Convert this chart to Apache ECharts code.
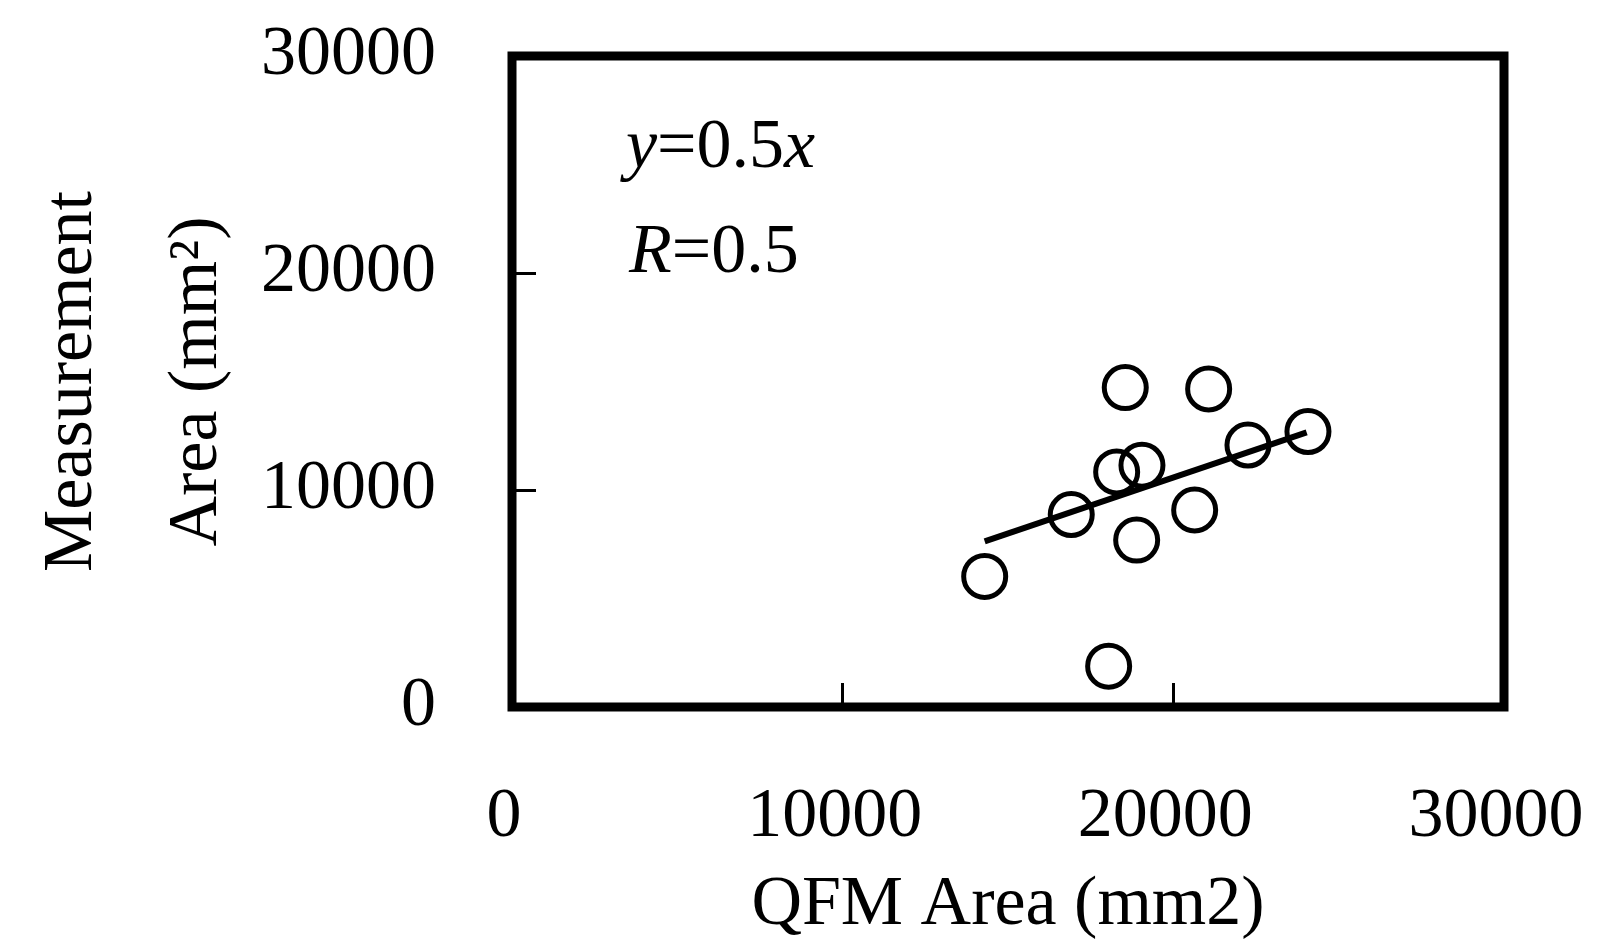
<!DOCTYPE html>
<html>
<head>
<meta charset="utf-8">
<script src="https://cdn.jsdelivr.net/npm/echarts@6/dist/echarts.min.js"></script>
<style>
html,body{margin:0;padding:0;background:#fff;}
#chart{width:1609px;height:943px;}
</style>
</head>
<body>
<div id="chart"></div>
<script>
// ---- data ----
const qfmArea = [14295, 16913, 18044, 18546, 18286, 19051, 18891, 21068, 20645, 22257, 24071];
const measArea = [6018, 8870, 1880, 14718, 10833, 11142, 7691, 14658, 9078, 12073, 12695];
const fitX = [14295, 24032];
const fitY = [7631, 12654];
const xTicks = [0, 10000, 20000, 30000];
const yTicks = [0, 10000, 20000, 30000];
const xTitle = 'QFM Area (mm2)';
const yTitle = 'Measurement\nArea (mm\u00B2)';
const eqText = '{i|y}=0.5{i|x}';
const rText = '{i|R}=0.5';

const FONT = "'Liberation Serif', 'Times New Roman', serif";

const scatterData = qfmArea.map((x, i) => [x, measArea[i]]);
const fitData = fitX.map((x, i) => [x, fitY[i]]);

const chart = echarts.init(document.getElementById('chart'), null, {renderer: 'canvas'});
chart.setOption({
  backgroundColor: '#fff',
  animation: false,
  grid: {
    left: 512, right: 105, top: 56, bottom: 236,
    containLabel: false, outerBoundsMode: 'none',
    show: true, borderColor: '#000', borderWidth: 9, backgroundColor: 'transparent'
  },
  xAxis: {
    type: 'value', min: xTicks[0], max: xTicks[xTicks.length - 1], interval: 10000,
    axisLine: {show: false},
    splitLine: {show: false},
    axisTick: {show: true, inside: true, length: 24, lineStyle: {color: '#000', width: 3}},
    axisLabel: {
      color: '#000', fontFamily: FONT, fontSize: 70, margin: 76, lineHeight: 70,
      padding: [0, 16, 0, 0], showMinLabel: true, showMaxLabel: true,
      formatter: v => String(v)
    },
    name: xTitle, nameLocation: 'middle', nameGap: 159, nameMoveOverlap: false,
    nameTextStyle: {color: '#000', fontFamily: FONT, fontSize: 70, lineHeight: 80}
  },
  yAxis: {
    type: 'value', min: yTicks[0], max: yTicks[yTicks.length - 1], interval: 10000,
    axisLine: {show: false},
    splitLine: {show: false},
    axisTick: {show: true, inside: true, length: 24, lineStyle: {color: '#000', width: 3}},
    axisLabel: {color: '#000', fontFamily: FONT, fontSize: 70, margin: 76, formatter: v => String(v)},
    name: yTitle, nameLocation: 'middle', nameRotate: 90, nameGap: 252, nameMoveOverlap: false,
    nameTextStyle: {color: '#000', fontFamily: FONT, fontSize: 70, lineHeight: 125, align: 'center'}
  },
  graphic: [
    {type: 'text', left: 626, top: 114, z: 10,
     style: {text: eqText, fill: '#000', font: "70px " + FONT,
             rich: {i: {fontStyle: 'italic', fontSize: 70, fontFamily: FONT, fill: '#000'}}}},
    {type: 'text', left: 629, top: 219, z: 10,
     style: {text: rText, fill: '#000', font: "70px " + FONT,
             rich: {i: {fontStyle: 'italic', fontSize: 70, fontFamily: FONT, fill: '#000'}}}}
  ],
  series: [
    {
      type: 'line', data: fitData, symbol: 'none', z: 3,
      lineStyle: {color: '#000', width: 6}
    },
    {
      type: 'scatter', data: scatterData, symbol: 'circle', symbolSize: 42, z: 4,
      itemStyle: {color: 'rgba(0,0,0,0)', borderColor: '#000', borderWidth: 5, opacity: 1}
    }
  ]
});
</script>
</body>
</html>
